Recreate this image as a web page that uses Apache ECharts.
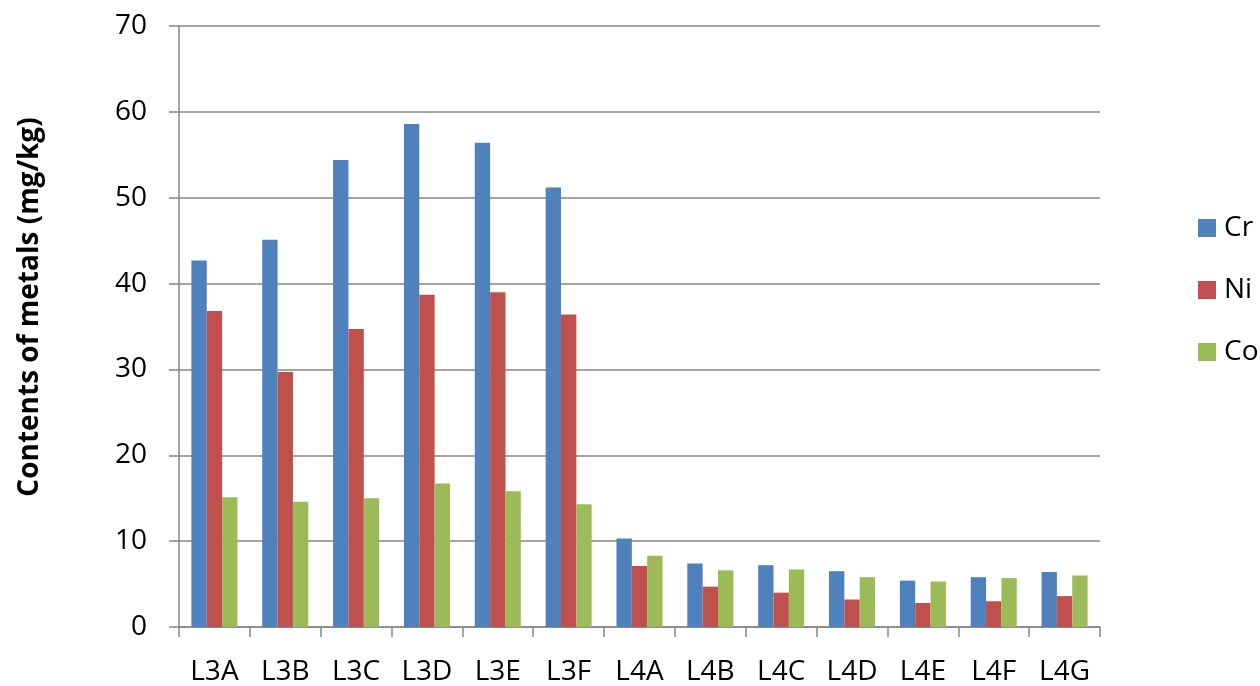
<!DOCTYPE html>
<html>
<head>
<meta charset="utf-8">
<script src="https://cdn.jsdelivr.net/npm/echarts@6/dist/echarts.min.js"></script>
<style>
  html, body { margin: 0; padding: 0; background: #fff; }
  #chart { width: 1260px; height: 686px; }
</style>
</head>
<body>
<div id="chart"></div>
<script>
// Sampling sites
const categories = ['L3A', 'L3B', 'L3C', 'L3D', 'L3E', 'L3F', 'L4A', 'L4B', 'L4C', 'L4D', 'L4E', 'L4F', 'L4G'];

// Metal contents (mg/kg)
const crValues = [42.7, 45.1, 54.4, 58.6, 56.4, 51.2, 10.3, 7.4, 7.2, 6.5, 5.4, 5.8, 6.4];
const niValues = [36.8, 29.7, 34.7, 38.7, 39.0, 36.4, 7.1, 4.7, 4.0, 3.2, 2.8, 3.0, 3.6];
const coValues = [15.1, 14.6, 15.0, 16.7, 15.8, 14.3, 8.3, 6.6, 6.7, 5.8, 5.3, 5.7, 6.0];

const seriesNames = ['Cr', 'Ni', 'Co'];
const yTicks = { min: 0, max: 70, interval: 10 };
const yTitle = 'Contents of metals (mg/kg)';

const FONT = '"Open Sans", "Liberation Sans", sans-serif';
const GRAY = '#868686';
const colors = ['#4F81BD', '#C0504D', '#9BBB59'];

const chart = echarts.init(document.getElementById('chart'), null, { renderer: 'canvas' });

const makeSeries = (name, data, color) => ({
  name: name,
  type: 'bar',
  data: data,
  barGap: '0%',
  barCategoryGap: '35%',
  itemStyle: { color: color },
  emphasis: { disabled: true }
});

chart.setOption({
  animation: false,
  backgroundColor: '#ffffff',
  textStyle: { fontFamily: FONT },
  grid: { left: 179, right: 160, top: 26, bottom: 59, containLabel: false },
  legend: {
    orient: 'vertical',
    left: 1193,
    top: 209,
    itemWidth: 18,
    itemHeight: 18,
    itemGap: 34,
    icon: 'rect',
    data: seriesNames,
    textStyle: { fontFamily: FONT, fontSize: 28, color: '#000', lineHeight: 28, padding: [0, 0, 0, 3] }
  },
  xAxis: {
    type: 'category',
    data: categories,
    boundaryGap: true,
    axisLine: { show: true, lineStyle: { color: GRAY, width: 1.5 } },
    axisTick: { show: true, length: 10, alignWithLabel: false, lineStyle: { color: GRAY, width: 1.5 } },
    axisLabel: { fontFamily: FONT, fontSize: 28, color: '#000', margin: 31, interval: 0 },
    splitLine: { show: false }
  },
  yAxis: {
    type: 'value',
    min: yTicks.min,
    max: yTicks.max,
    interval: yTicks.interval,
    axisLine: { show: true, lineStyle: { color: GRAY, width: 1.5 } },
    axisTick: { show: true, length: 10, inside: false, lineStyle: { color: GRAY, width: 1.5 } },
    axisLabel: { fontFamily: FONT, fontSize: 28, color: '#000', margin: 32 },
    splitLine: { show: true, lineStyle: { color: GRAY, width: 1.5 } }
  },
  graphic: [{
    type: 'text',
    x: 30,
    y: 307,
    rotation: Math.PI / 2,
    style: {
      text: yTitle,
      fontFamily: FONT,
      fontWeight: 'bold',
      fontSize: 28,
      fill: '#000',
      textAlign: 'center',
      textVerticalAlign: 'middle'
    }
  }],
  series: [
    makeSeries(seriesNames[0], crValues, colors[0]),
    makeSeries(seriesNames[1], niValues, colors[1]),
    makeSeries(seriesNames[2], coValues, colors[2])
  ]
});
</script>
</body>
</html>
